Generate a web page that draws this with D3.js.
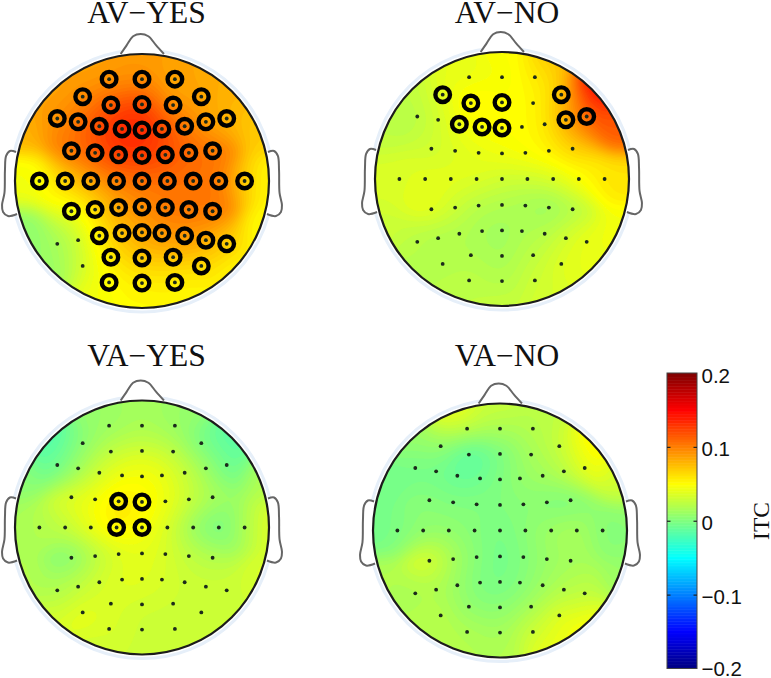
<!DOCTYPE html>
<html>
<head>
<meta charset="utf-8">
<script src="https://cdn.jsdelivr.net/npm/d3@7"></script>
<style>
  html, body { margin: 0; padding: 0; background: #fff; }
  svg { display: block; }
</style>
</head>
<body>
<div id="chart"></div>
<script>
// sensor locations in head units (-1..1), row by row from the nose
const elecX = [
  -0.259, 0, 0.259,
  -0.467, -0.245, 0, 0.245, 0.467,
  -0.667, -0.503, -0.336, -0.157, 0, 0.157, 0.336, 0.503, 0.667,
  -0.556, -0.369, -0.184, 0, 0.184, 0.369, 0.556,
  -0.808, -0.605, -0.403, -0.2, 0, 0.2, 0.403, 0.605, 0.808,
  -0.556, -0.369, -0.184, 0, 0.184, 0.369, 0.556,
  -0.667, -0.503, -0.336, -0.157, 0, 0.157, 0.336, 0.503, 0.667,
  -0.467, -0.245, 0, 0.245, 0.467,
  -0.259, 0, 0.259,
];
const elecY = [
  -0.802, -0.802, -0.802,
  -0.664, -0.598, -0.603, -0.598, -0.664,
  -0.492, -0.466, -0.431, -0.41, -0.402, -0.41, -0.431, -0.466, -0.492,
  -0.238, -0.222, -0.206, -0.201, -0.206, -0.222, -0.238,
  0, 0, 0, 0, 0, 0, 0, 0, 0,
  0.238, 0.225, 0.209, 0.204, 0.209, 0.225, 0.238,
  0.495, 0.466, 0.431, 0.41, 0.405, 0.41, 0.431, 0.466, 0.495,
  0.669, 0.6, 0.606, 0.6, 0.669,
  0.799, 0.804, 0.799,
];

const itcAvYes = [
  0.09, 0.09, 0.085,
  0.09, 0.115, 0.125, 0.085, 0.085,
  0.09, 0.105, 0.125, 0.14, 0.14, 0.125, 0.105, 0.085, 0.075,
  0.105, 0.115, 0.13, 0.13, 0.12, 0.11, 0.105,
  0.045, 0.065, 0.085, 0.1, 0.105, 0.105, 0.105, 0.105, 0.065,
  0.04, 0.06, 0.09, 0.095, 0.105, 0.105, 0.105,
  0.01, 0.025, 0.06, 0.075, 0.085, 0.095, 0.095, 0.085, 0.065,
  0.03, 0.06, 0.07, 0.07, 0.06,
  0.05, 0.055, 0.055,
];
const itcAvNo = [
  0.04, 0.045, 0.055,
  0.04, 0.06, 0.05, 0.05, 0.07,
  0.02, 0.03, 0.045, 0.05, 0.05, 0.05, 0.055, 0.085, 0.12,
  0.03, 0.035, 0.04, 0.045, 0.05, 0.055, 0.07,
  0.035, 0.04, 0.04, 0.04, 0.03, 0.03, 0.035, 0.05, 0.06,
  0.045, 0.03, 0.02, 0.02, 0.015, 0.005, 0.02,
  0.025, 0.015, 0.02, 0.015, 0.01, 0.02, 0.02, 0.035, 0.045,
  0.02, 0.02, 0.015, 0.025, 0.04,
  0.025, 0.02, 0.03,
];
const itcVaYes = [
  0.01, 0.015, 0.01,
  0, 0.025, 0.03, 0.025, -0.01,
  -0.015, 0.012, 0.035, 0.045, 0.05, 0.045, 0.03, 0.015, -0.015,
  0.04, 0.045, 0.065, 0.055, 0.045, 0.03, 0.015,
  0.02, 0.025, 0.045, 0.06, 0.05, 0.035, 0.005, -0.01, 0.02,
  -0.005, 0.02, 0.035, 0.04, 0.035, 0.025, 0.02,
  0.015, 0.025, 0.035, 0.04, 0.04, 0.035, 0.03, 0.03, 0.03,
  0.045, 0.035, 0.03, 0.03, 0.03,
  0.035, 0.03, 0.03,
];
const itcVaNo = [
  0.03, 0.02, 0.02,
  0.015, -0.025, -0.005, 0.015, 0.03,
  -0.005, -0.005, -0.012, -0.008, 0, 0.01, 0.015, 0.02, 0.05,
  0.005, 0, 0.003, 0, 0.005, -0.002, -0.005,
  -0.002, 0.005, 0.008, 0.002, -0.005, 0.005, 0.015, 0.02, 0,
  0.045, 0.015, 0.005, -0.008, 0.002, 0.01, 0.015,
  0.015, 0.02, 0.01, -0.003, -0.005, 0, 0.012, 0.02, 0.025,
  0.025, 0.005, 0.005, 0.015, 0.045,
  0.02, 0.015, 0.03,
];

// values read along the scalp edge, clockwise from the nose in 22.5 degree steps
const rimAvYes = [0.09, 0.085, 0.08, 0.07, 0.05, 0.05, 0.05, 0.05, 0.05, 0.045, 0.008, 0.005, 0.045, 0.08, 0.085, 0.085];
const rimAvNo = [0.05, 0.075, 0.155, 0.115, 0.06, 0.045, 0.04, 0.035, 0.03, 0.025, 0.02, 0.03, 0.035, 0.025, 0.025, 0.04];
const rimVaYes = [0.015, 0.01, -0.015, 0.02, 0.04, 0.035, 0.03, 0.03, 0.03, 0.03, 0.035, 0.02, 0.015, 0.005, -0.02, 0.01];
const rimVaNo = [0.03, 0.025, 0.055, 0.03, 0.005, 0.01, 0.05, 0.045, 0.02, 0.02, 0.02, 0.02, -0.005, -0.005, 0.01, 0.045];

// indices of the sensors with significant effect (ringed)
const sigAvYes = d3.range(elecX.length).filter((i) => ![40, 41, 49].includes(i));
const sigAvNo = [3, 4, 5, 7, 10, 11, 12, 15, 16];
const sigVaYes = [19, 20, 27, 28];
const sigVaNo = [];

const panelTitles = ['AV\u2212YES', 'AV\u2212NO', 'VA\u2212YES', 'VA\u2212NO'];
const cbarTicks = [0.2, 0.1, 0, -0.1, -0.2];
const jetStops = ['#00007f', '#0000ff', '#00ffff', '#ffff00', '#ff0000', '#7f0000'];

const earLeft = [[-0.992, -0.228], [-1.04, -0.236], [-1.07, -0.197], [-1.079, -0.087], [-1.083, 0.094], [-1.102, 0.189], [-1.094, 0.244], [-1.055, 0.276], [-0.984, 0.26]];
const noseLine = [[-0.168, -1], [-0.12, -1.07], [-0.07, -1.14], [-0.01, -1.158], [0.05, -1.14], [0.11, -1.07], [0.173, -1]];

const panels = [
  { title: panelTitles[0], values: itcAvYes, rim: rimAvYes, sig: sigAvYes, cx: 142, cy: 181, tx: 146.5, ty: 22.5 },
  { title: panelTitles[1], values: itcAvNo, rim: rimAvNo, sig: sigAvNo, cx: 502, cy: 179, tx: 507, ty: 22.5 },
  { title: panelTitles[2], values: itcVaYes, rim: rimVaYes, sig: sigVaYes, cx: 142, cy: 527.5, tx: 146.5, ty: 366 },
  { title: panelTitles[3], values: itcVaNo, rim: rimVaNo, sig: sigVaNo, cx: 500, cy: 530.5, tx: 507, ty: 366 },
];

const width = 771;
const height = 678;
const headR = 127;
const gridN = 110;

const color = d3.scaleLinear()
  .domain([-0.2, -0.15, -0.05, 0.05, 0.15, 0.2])
  .range(jetStops)
  .clamp(true);

const svg = d3.select('#chart').append('svg')
  .attr('width', width)
  .attr('height', height)
  .style('font-family', '"Liberation Serif", serif');

const defs = svg.append('defs');
defs.append('filter').attr('id', 'soft')
  .attr('x', '-5%').attr('y', '-5%').attr('width', '110%').attr('height', '110%')
  .append('feGaussianBlur').attr('stdDeviation', 0.6);

// smooth the sensor and rim readings over a square grid
function fieldGrid(p) {
  const rimPts = p.rim.map((v, i) => {
    const a = (i * 22.5 * Math.PI) / 180;
    return [Math.sin(a) * 1.02, -Math.cos(a) * 1.02, v];
  });
  const pts = elecX.map((x, i) => [x, elecY[i], p.values[i]]).concat(rimPts);
  const grid = new Array(gridN * gridN);
  const sigma2 = 2 * 0.13 * 0.13;
  for (let j = 0; j < gridN; j++) {
    for (let i = 0; i < gridN; i++) {
      const gx = -1.05 + (2.1 * (i + 0.5)) / gridN;
      const gy = -1.05 + (2.1 * (j + 0.5)) / gridN;
      let sw = 0;
      let sv = 0;
      pts.forEach((q) => {
        const d2 = (gx - q[0]) ** 2 + (gy - q[1]) ** 2;
        const w = Math.exp(-d2 / sigma2);
        sw += w;
        sv += w * q[2];
      });
      grid[j * gridN + i] = sw > 1e-9 ? sv / sw : 0;
    }
  }
  return grid;
}

const thresholds = d3.range(-0.2, 0.2, 0.003);

panels.forEach((p, k) => {
  const x = d3.scaleLinear().domain([-1, 1]).range([p.cx - headR, p.cx + headR]);
  const y = d3.scaleLinear().domain([-1, 1]).range([p.cy - headR, p.cy + headR]);
  const gridX = d3.scaleLinear().domain([0, gridN]).range([x(-1.05), x(1.05)]);
  const gridY = d3.scaleLinear().domain([0, gridN]).range([y(-1.05), y(1.05)]);

  const g = svg.append('g');

  g.append('text')
    .attr('x', p.tx)
    .attr('y', p.ty)
    .attr('text-anchor', 'middle')
    .attr('font-size', 31.5)
    .attr('fill', '#111')
    .text(p.title);

  const art = g.append('g').attr('filter', 'url(#soft)');

  const clipId = `head-clip-${k}`;
  defs.append('clipPath').attr('id', clipId)
    .append('circle')
    .attr('cx', x(0)).attr('cy', y(0)).attr('r', headR);

  // pale halo outside the scalp
  art.append('circle')
    .attr('cx', x(0)).attr('cy', y(0)).attr('r', headR + 4)
    .attr('fill', 'none')
    .attr('stroke', '#e6eff9')
    .attr('stroke-width', 3);

  const line = d3.line().x((d) => x(d[0])).y((d) => y(d[1])).curve(d3.curveCatmullRom);
  const earRight = earLeft.map((d) => [-d[0], d[1]]);
  [earLeft, earRight].forEach((ear) => {
    art.append('path')
      .attr('d', line(ear))
      .attr('fill', '#fff')
      .attr('stroke', '#666')
      .attr('stroke-width', 2);
  });
  art.append('path')
    .attr('d', line(noseLine))
    .attr('fill', '#fff')
    .attr('stroke', '#666')
    .attr('stroke-width', 2);

  const grid = fieldGrid(p);
  const contours = d3.contours().size([gridN, gridN]).thresholds(thresholds)(grid);
  const toScreen = d3.geoTransform({
    point(px, py) {
      this.stream.point(gridX(px), gridY(py));
    },
  });
  const contourPath = d3.geoPath(toScreen);

  const field = art.append('g').attr('clip-path', `url(#${clipId})`);
  field.append('circle')
    .attr('cx', x(0)).attr('cy', y(0)).attr('r', headR)
    .attr('fill', color(thresholds[0]));
  field.selectAll('path')
    .data(contours)
    .join('path')
    .attr('d', contourPath)
    .attr('fill', (d) => color(d.value + 0.0015));

  art.append('circle')
    .attr('cx', x(0)).attr('cy', y(0)).attr('r', headR)
    .attr('fill', 'none')
    .attr('stroke', '#1c1c1c')
    .attr('stroke-width', 2.2);

  const sensors = d3.range(elecX.length);
  art.selectAll('circle.dot')
    .data(sensors)
    .join('circle')
    .attr('class', 'dot')
    .attr('cx', (i) => x(elecX[i]))
    .attr('cy', (i) => y(elecY[i]))
    .attr('r', 1.9)
    .attr('fill', '#1a2a1a');

  art.selectAll('circle.ring')
    .data(p.sig)
    .join('circle')
    .attr('class', 'ring')
    .attr('cx', (i) => x(elecX[i]))
    .attr('cy', (i) => y(elecY[i]))
    .attr('r', 7.3)
    .attr('fill', 'none')
    .attr('stroke', '#050505')
    .attr('stroke-width', 4.4);
});

// colorbar
const cbarX = 667;
const cbarW = 30;
const cbarScale = d3.scaleLinear().domain([-0.2, 0.2]).range([668.5, 373]);

const cbar = svg.append('g').attr('filter', 'url(#soft)');
const cbarSteps = d3.range(-0.2, 0.2, 0.002);
cbar.selectAll('rect')
  .data(cbarSteps)
  .join('rect')
  .attr('x', cbarX)
  .attr('y', (d) => cbarScale(d + 0.002))
  .attr('width', cbarW)
  .attr('height', (d) => cbarScale(d) - cbarScale(d + 0.002) + 0.5)
  .attr('fill', (d) => color(d + 0.001));
cbar.append('rect')
  .attr('x', cbarX).attr('y', cbarScale(0.2))
  .attr('width', cbarW).attr('height', cbarScale(-0.2) - cbarScale(0.2))
  .attr('fill', 'none')
  .attr('stroke', '#444')
  .attr('stroke-width', 1);

const innerTicks = cbarTicks.filter((d) => Math.abs(d) < 0.2);
[[cbarX, true], [cbarX + cbarW, false]].forEach(([tx, onLeft]) => {
  const axis = onLeft ? d3.axisRight(cbarScale) : d3.axisLeft(cbarScale);
  const gAxis = cbar.append('g')
    .attr('transform', `translate(${tx},0)`)
    .call(axis.tickValues(innerTicks).tickSize(3.5).tickFormat(''));
  gAxis.select('.domain').remove();
  gAxis.selectAll('line').attr('stroke', '#222').attr('stroke-width', 1.2);
});

svg.append('g')
  .selectAll('text')
  .data(cbarTicks)
  .join('text')
  .attr('x', 701.5)
  .attr('y', (d) => cbarScale(d) + (d === 0.2 ? 9.5 : d === -0.2 ? 7.5 : 9.5))
  .attr('font-family', '"Liberation Sans", sans-serif')
  .attr('font-size', 20.5)
  .attr('fill', '#111')
  .text((d) => (d === 0 ? '0' : d3.format('.1f')(d).replace('-', '\u2212')));

svg.append('text')
  .attr('transform', 'translate(768.5,521) rotate(-90)')
  .attr('text-anchor', 'middle')
  .attr('font-size', 23.5)
  .attr('fill', '#111')
  .text('ITC');
</script>
</body>
</html>
